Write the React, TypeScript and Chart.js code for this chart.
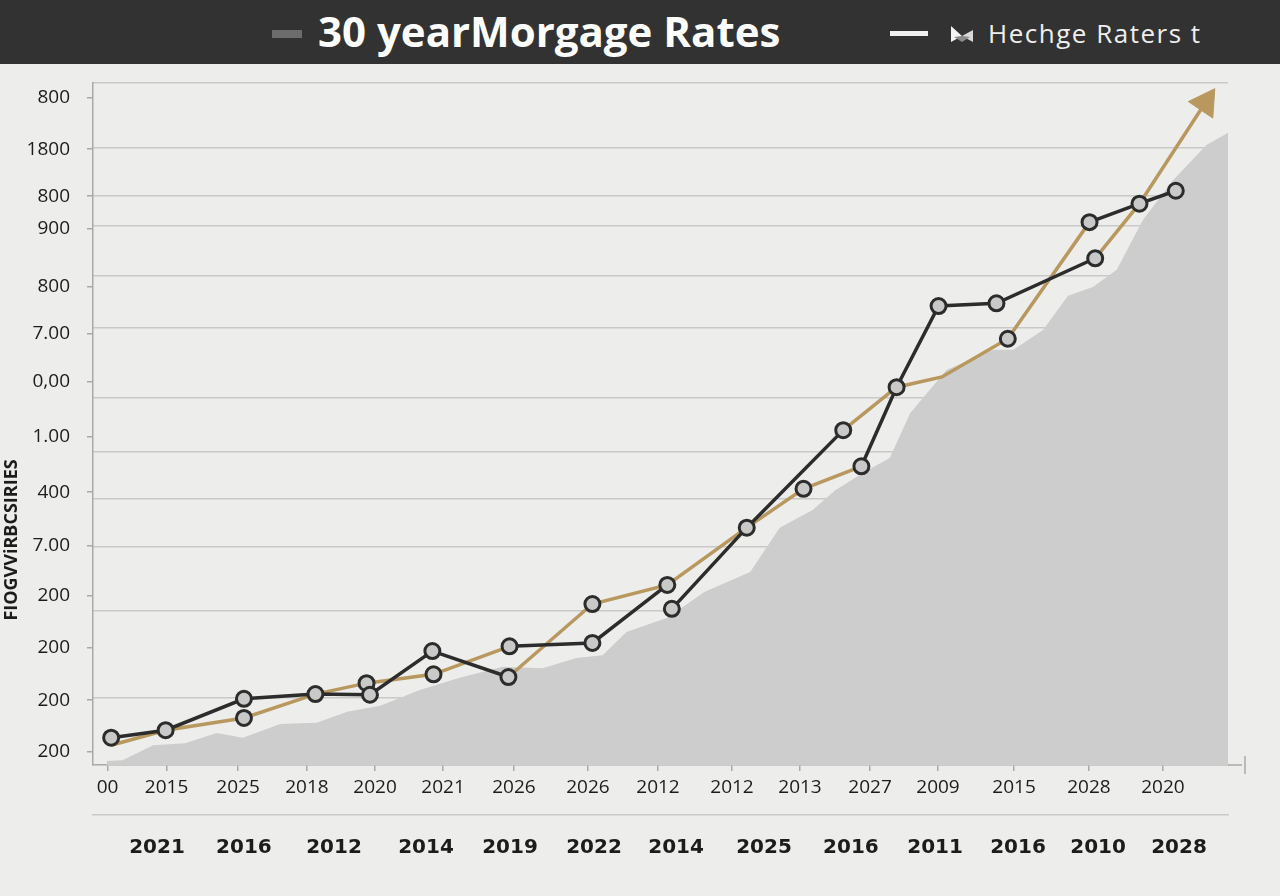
import { useEffect, useRef } from "react";
import { Chart, registerables } from "chart.js";

Chart.register(...registerables);

const chartTitle = "30 yearMorgage Rates";
const legendLabel = "Hechge Raters t";
const yAxisTitle = "FIOGVViRBCSIRIES";

const yTickLabels = ["800", "1800", "800", "900", "800", "7.00", "0,00", "1.00", "400", "7.00", "200", "200", "200", "200"];
const yTickValues = [97.9, 90.3, 83.4, 78.7, 70.1, 63.3, 56.2, 48.2, 40.0, 32.1, 24.8, 17.2, 9.5, 1.9];
const yGridValues = [100, 90.5, 83.4, 79.0, 71.7, 64.1, 53.8, 46.0, 39.1, 32.0, 22.6, 9.8];

const xTickLabels = ["00", "2015", "2025", "2018", "2020", "2021", "2026", "2026", "2012", "2012", "2013", "2027", "2009", "2015", "2028", "2020"];
const xTickValues = [1.28, 6.48, 12.78, 18.85, 24.85, 30.84, 37.09, 43.61, 49.78, 56.3, 62.29, 68.46, 74.45, 81.15, 87.75, 94.27];
const xGroupLabels = ["2021", "2016", "2012", "2014", "2019", "2022", "2014", "2025", "2016", "2011", "2016", "2010", "2028"];
const xGroupValues = [5.64, 13.3, 21.23, 29.34, 36.74, 44.14, 51.37, 59.12, 66.78, 74.19, 81.5, 88.55, 95.68];

const shadeX = [1.2, 2.6, 5.3, 8.1, 10.9, 13.2, 16.5, 19.7, 22.4, 25.3, 28.8, 32.3, 36.1, 39.6, 42.6, 44.9, 47.0, 50.6, 53.9, 57.9, 60.5, 63.4, 65.4, 68.0, 70.2, 72.0, 75.2, 79.3, 81.1, 83.7, 85.9, 88.1, 90.2, 92.5, 95.2, 98.1, 100];
const shadeY = [0.6, 0.7, 2.9, 3.2, 4.7, 4.0, 6.0, 6.2, 7.8, 8.7, 11.0, 12.8, 14.4, 14.2, 15.7, 16.1, 19.5, 21.6, 25.4, 28.3, 34.8, 37.4, 40.3, 43.0, 45.0, 51.6, 57.9, 60.9, 60.9, 63.8, 68.8, 70.1, 72.6, 79.9, 85.8, 90.9, 92.7];

// null = break in the line
const darkSeries: ([number, number] | null)[] = [
  [1.6, 4.0], [6.4, 5.1], [13.3, 9.7], [19.6, 10.4], [24.4, 10.3], [29.9, 16.7], [36.6, 12.9], null,
  [36.7, 17.4], [44.0, 17.9], [50.6, 26.4], null,
  [51.0, 22.9], [57.6, 34.8], [66.1, 49.1], null,
  [67.7, 43.8], [70.8, 55.4], [74.5, 67.3], [79.6, 67.7], [88.3, 74.3], null,
  [87.8, 79.6], [92.2, 82.3], [95.4, 84.2],
];
const goldSeries: ([number, number] | null)[] = [
  [1.6, 2.9], [6.4, 5.1], [13.3, 6.9], [19.6, 10.4], [24.1, 12.0], [30.0, 13.3], [36.7, 17.4], null,
  [36.6, 12.9], [44.0, 23.6], [50.6, 26.4], [57.6, 34.8], [62.6, 40.5], [67.7, 43.8], null,
  [66.1, 49.1], [70.8, 55.4], [74.8, 56.9], [80.6, 62.5], [87.8, 79.6], null,
  [88.3, 74.3], [92.2, 82.3], [98.0, 97.1],
];
const goldMarked = [false, false, true, false, true, true, false, false, false, true, false, false, true, false, false, false, false, false, true, false, false, false, false, false];

const toPoints = (arr: ([number, number] | null)[]) => {
  let lastX = 0;
  return arr.map((p) => {
    if (p) {
      lastX = p[0];
      return { x: p[0], y: p[1] as number | null };
    }
    return { x: lastX, y: null as number | null };
  });
};

const DARK = "#2c2c2c";
const GOLD = "#b8985f";
const MARK_FILL = "#c9c9c9";
const AXIS = "#a9a9a9";
const GRID = "#c9c9c9";
const TEXT = "#1c1c1c";

const decorPlugin = {
  id: "decor",
  afterDraw(chart: any) {
    const { ctx, chartArea } = chart;
    ctx.save();
    ctx.strokeStyle = AXIS;
    ctx.lineWidth = 1.5;
    ctx.beginPath();
    ctx.moveTo(chartArea.right, chartArea.bottom);
    ctx.lineTo(chartArea.right + 14, chartArea.bottom);
    ctx.moveTo(chartArea.right + 17, chartArea.bottom - 9);
    ctx.lineTo(chartArea.right + 17, chartArea.bottom + 9);
    ctx.stroke();
    ctx.translate(12, 476);
    ctx.rotate(-Math.PI / 2);
    ctx.font = '700 18px "Open Sans"';
    ctx.fillStyle = TEXT;
    ctx.textAlign = "center";
    ctx.textBaseline = "middle";
    ctx.fillText(yAxisTitle, 0, 0);
    ctx.restore();
  },
};

export default function App() {
  const canvasRef = useRef<HTMLCanvasElement | null>(null);

  useEffect(() => {
    if (!canvasRef.current) return;
    const goldLast = goldSeries.length - 1;
    const chart = new Chart(canvasRef.current, {
      type: "line",
      data: {
        datasets: [
          {
            label: "dark",
            data: toPoints(darkSeries) as any,
            order: 1,
            borderColor: DARK,
            borderWidth: 3.5,
            tension: 0,
            spanGaps: false,
            fill: false,
            pointRadius: 7.5,
            pointBackgroundColor: MARK_FILL,
            pointBorderColor: DARK,
            pointBorderWidth: 3,
          },
          {
            label: "gold",
            data: toPoints(goldSeries) as any,
            order: 2,
            borderColor: GOLD,
            borderWidth: 3.5,
            tension: 0,
            spanGaps: false,
            fill: false,
            pointRadius: (c: any) => (c.dataIndex === goldLast ? 17 : goldMarked[c.dataIndex] ? 7.5 : 0),
            pointStyle: (c: any) => (c.dataIndex === goldLast ? "triangle" : "circle"),
            pointRotation: (c: any) => (c.dataIndex === goldLast ? 34 : 0),
            pointBackgroundColor: (c: any) => (c.dataIndex === goldLast ? GOLD : MARK_FILL),
            pointBorderColor: (c: any) => (c.dataIndex === goldLast ? GOLD : DARK),
            pointBorderWidth: (c: any) => (c.dataIndex === goldLast ? 1 : 3),
          } as any,
          {
            label: "shade",
            data: shadeX.map((x, i) => ({ x, y: shadeY[i] })),
            order: 3,
            borderWidth: 0,
            borderColor: "rgba(0,0,0,0)",
            backgroundColor: "#cdcdcd",
            pointRadius: 0,
            tension: 0,
            fill: "origin",
          },
        ],
      },
      options: {
        animation: false,
        responsive: true,
        maintainAspectRatio: false,
        layout: { padding: { top: 19, right: 52, bottom: 21, left: 0 } },
        plugins: { legend: { display: false }, tooltip: { enabled: false } },
        scales: {
          x: {
            type: "linear",
            position: "bottom",
            min: 0,
            max: 100,
            afterBuildTicks: (s: any) => {
              s.ticks = xTickValues.map((v) => ({ value: v }));
            },
            afterFit: (s: any) => {
              s.height = 50;
              s.paddingLeft = 0;
              s.paddingRight = 0;
            },
            grid: { drawOnChartArea: false, drawTicks: true, tickLength: 6, color: AXIS, lineWidth: 1.5 },
            border: { display: true, color: AXIS, width: 1.5 },
            ticks: {
              autoSkip: false,
              maxRotation: 0,
              minRotation: 0,
              padding: 5,
              color: TEXT,
              font: { family: "Open Sans", size: 19 },
              callback: (_v: any, i: number) => xTickLabels[i],
            },
          },
          x2: {
            type: "linear",
            position: "bottom",
            min: 0,
            max: 100,
            afterBuildTicks: (s: any) => {
              s.ticks = xGroupValues.map((v) => ({ value: v }));
            },
            afterFit: (s: any) => {
              s.height = 60;
              s.paddingLeft = 0;
              s.paddingRight = 0;
            },
            grid: { drawOnChartArea: false, drawTicks: false, color: GRID },
            border: { display: true, color: GRID, width: 1.5 },
            ticks: {
              autoSkip: false,
              maxRotation: 0,
              minRotation: 0,
              padding: 21,
              color: TEXT,
              font: { family: "DejaVu Sans", size: 20, weight: "bold" },
              callback: (_v: any, i: number) => xGroupLabels[i],
            },
          },
          y: {
            type: "linear",
            position: "left",
            min: 0,
            max: 100,
            afterBuildTicks: (s: any) => {
              s.ticks = yTickValues.map((v) => ({ value: v }));
            },
            afterFit: (s: any) => {
              s.width = 93;
              s.paddingTop = 0;
              s.paddingBottom = 0;
            },
            grid: { drawOnChartArea: false, drawTicks: true, tickLength: 6, color: AXIS, lineWidth: 1.5 },
            border: { display: true, color: AXIS, width: 1.5 },
            ticks: {
              autoSkip: false,
              padding: 17,
              color: TEXT,
              font: { family: "Open Sans", size: 19 },
              callback: (_v: any, i: number) => yTickLabels[i],
            },
          },
          yGrid: {
            type: "linear",
            position: "right",
            min: 0,
            max: 100,
            afterBuildTicks: (s: any) => {
              s.ticks = yGridValues.map((v) => ({ value: v }));
            },
            afterFit: (s: any) => {
              s.width = 0;
              s.paddingTop = 0;
              s.paddingBottom = 0;
            },
            grid: { drawOnChartArea: true, drawTicks: false, color: GRID, lineWidth: 1.5 },
            border: { display: false },
            ticks: { display: false, autoSkip: false },
          },
        },
      } as any,
      plugins: [decorPlugin],
    });
    return () => chart.destroy();
  }, []);

  return (
    <div style={{ width: 1280, height: 896, background: "#ededeb", fontFamily: '"Open Sans", sans-serif' }}>
      <style>{`html,body{margin:0;padding:0;background:#ededeb;}`}</style>
      <div style={{ position: "relative", width: 1280, height: 64, background: "#323232" }}>
        <div style={{ position: "absolute", left: 272, top: 30, width: 30, height: 8, background: "#6c6c6c" }} />
        <div
          style={{
            position: "absolute",
            left: 318,
            top: 0,
            height: 62,
            lineHeight: "62px",
            fontSize: 42,
            fontWeight: 700,
            letterSpacing: 0,
            color: "#ffffff",
            whiteSpace: "nowrap",
          }}
        >
          {chartTitle}
        </div>
        <div style={{ position: "absolute", left: 890, top: 31, width: 38, height: 5, background: "#f0f0f0" }} />
        <svg style={{ position: "absolute", left: 950, top: 24 }} width={24} height={20} viewBox="0 0 24 20">
          <polygon points="1,2 1,18 12,12" fill="#f4f4f4" />
          <polygon points="23,6 23,18 12,12" fill="#d8d8d8" />
          <polygon points="4,13 12,12 20,13 12,18" fill="#8a8a8a" />
        </svg>
        <div
          style={{
            position: "absolute",
            left: 988,
            top: 0,
            height: 66,
            lineHeight: "66px",
            fontSize: 26,
            letterSpacing: 1.5,
            color: "#eeeeee",
            whiteSpace: "nowrap",
          }}
        >
          {legendLabel}
        </div>
      </div>
      <div style={{ position: "relative", width: 1280, height: 832 }}>
        <canvas ref={canvasRef} />
      </div>
    </div>
  );
}
